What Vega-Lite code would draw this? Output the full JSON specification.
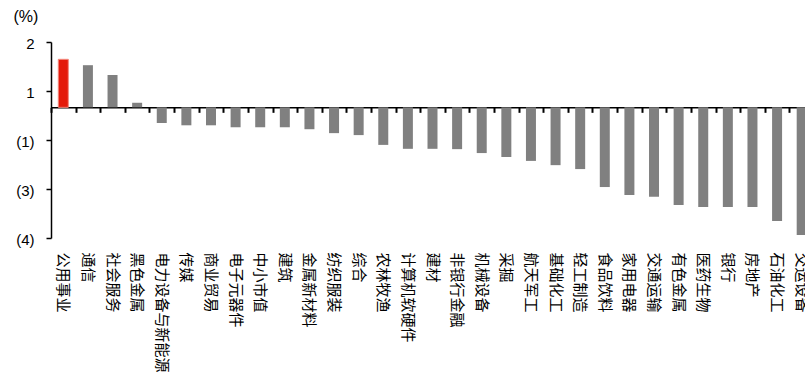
{
  "$schema": "https://vega.github.io/schema/vega-lite/v6.json",
  "width": 754,
  "height": 196,
  "autosize": {"type": "none"},
  "padding": {"left": 51, "top": 42, "right": 0, "bottom": 138},
  "background": "white",
  "config": {
    "view": {"stroke": null},
    "font": "Liberation Sans"
  },
  "data": {
    "values": [
      {"name": "公用事业", "value": 1.47},
      {"name": "通信", "value": 1.29},
      {"name": "社会服务", "value": 0.99},
      {"name": "黑色金属", "value": 0.14},
      {"name": "电力设备与新能源", "value": -0.48},
      {"name": "传媒", "value": -0.55},
      {"name": "商业贸易", "value": -0.55},
      {"name": "电子元器件", "value": -0.61},
      {"name": "中小市值", "value": -0.61},
      {"name": "建筑", "value": -0.61},
      {"name": "金属新材料", "value": -0.67},
      {"name": "纺织服装", "value": -0.79},
      {"name": "综合", "value": -0.85},
      {"name": "农林牧渔", "value": -1.15},
      {"name": "计算机软硬件", "value": -1.27},
      {"name": "建材", "value": -1.27},
      {"name": "非银行金融", "value": -1.28},
      {"name": "机械设备", "value": -1.40},
      {"name": "采掘", "value": -1.52},
      {"name": "航天军工", "value": -1.64},
      {"name": "基础化工", "value": -1.77},
      {"name": "轻工制造", "value": -1.89},
      {"name": "食品饮料", "value": -2.44},
      {"name": "家用电器", "value": -2.68},
      {"name": "交通运输", "value": -2.74},
      {"name": "有色金属", "value": -2.99},
      {"name": "医药生物", "value": -3.05},
      {"name": "银行", "value": -3.05},
      {"name": "房地产", "value": -3.05},
      {"name": "石油化工", "value": -3.48},
      {"name": "交运设备", "value": -3.91}
    ]
  },
  "encoding": {
    "y": {
      "field": "value",
      "type": "quantitative",
      "scale": {"domain": [-4, 2], "nice": false, "zero": false},
      "axis": {
        "orient": "left",
        "title": "(%)",
        "titleAngle": 0,
        "titleAlign": "left",
        "titleBaseline": "top",
        "titleX": -38,
        "titleY": -34,
        "titleFont": "Liberation Sans",
        "titleFontSize": 16,
        "titleFontWeight": "normal",
        "titleColor": "black",
        "values": [2, 0.5, -1, -2.5, -4],
        "labelExpr": "datum.value == 2 ? '2' : datum.value == 0.5 ? '1' : datum.value == -1 ? '(1)' : datum.value == -2.5 ? '(3)' : '(4)'",
        "labelFont": "Liberation Sans",
        "labelFontSize": 15,
        "labelColor": "black",
        "labelPadding": 12,
        "labelOffset": 1,
        "tickSize": 5,
        "tickWidth": 1.5,
        "tickColor": "black",
        "domainColor": "black",
        "domainWidth": 1.5,
        "grid": false
      }
    }
  },
  "layer": [
    {
      "mark": {"type": "bar", "size": 10, "strokeWidth": 1},
      "encoding": {
        "x": {
          "field": "name",
          "type": "nominal",
          "sort": null,
          "scale": {"range": [0, 763], "paddingInner": 0, "paddingOuter": 0},
          "axis": {
            "orient": "bottom",
            "title": null,
            "labels": false,
            "ticks": true,
            "tickBand": "extent",
            "tickSize": 5,
            "tickWidth": 2,
            "tickColor": "black",
            "domainColor": "black",
            "domainWidth": 1.5,
            "offset": -130.67,
            "grid": false
          }
        },
        "color": {
          "condition": {"test": "datum.name === '公用事业'", "value": "#E41B0B"},
          "value": "#808080"
        },
        "stroke": {
          "condition": {"test": "datum.name === '公用事业'", "value": "#F4887C"},
          "value": null
        }
      }
    },
    {
      "mark": {"type": "bar", "size": 10, "opacity": 0},
      "encoding": {
        "x": {
          "field": "name",
          "type": "nominal",
          "sort": null,
          "axis": {
            "orient": "bottom",
            "title": null,
            "domain": false,
            "ticks": false,
            "labelAngle": 90,
            "labelAlign": "left",
            "labelBaseline": "middle",
            "labelPadding": 14,
            "labelFont": "Noto Sans CJK SC",
            "labelFontSize": 15,
            "labelColor": "black",
            "labelOverlap": false,
            "labelLimit": 200,
            "grid": false
          }
        }
      }
    }
  ],
  "resolve": {"axis": {"x": "independent"}}
}
